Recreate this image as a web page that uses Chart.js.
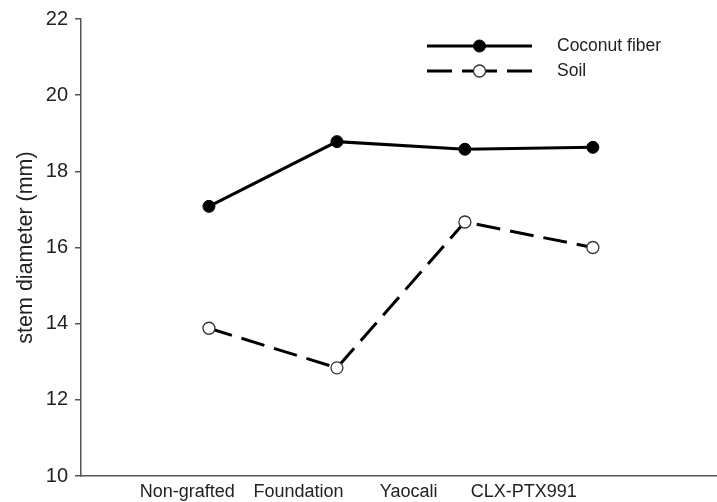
<!DOCTYPE html>
<html>
<head>
<meta charset="utf-8">
<script src="https://cdn.jsdelivr.net/npm/chart.js@4/dist/chart.umd.min.js"></script>
<style>
  html, body { margin: 0; padding: 0; background: #fff; }
  #wrap { width: 717px; height: 502px; }
</style>
</head>
<body>
<div id="wrap"><canvas id="chart"></canvas></div>
<script>
const categories = ['Non-grafted', 'Foundation', 'Yaocali', 'CLX-PTX991'];
const xPositions = [1, 2, 3, 4];
// where SigmaPlot put the category labels (a bit left of the points)
const labelPositions = [0.83, 1.70, 2.56, 3.46];
const coconutFiber = [17.08, 18.78, 18.58, 18.63];
const soil = [13.88, 12.84, 16.67, 16.0];
const yTicks = [10, 12, 14, 16, 18, 20, 22];

const FONT = 'Liberation Sans, Arial, sans-serif';

// legend with the marker in the middle of the line, like the original
const lineLegend = {
    id: 'lineLegend',
    afterDraw(chart) {
        const ctx = chart.ctx;
        const x0 = 427, x1 = 532, textX = 557;
        chart.data.datasets.forEach((ds, i) => {
            const y = 46 + i * 25;
            const mid = (x0 + x1) / 2;
            ctx.save();
            ctx.strokeStyle = ds.borderColor;
            ctx.lineWidth = ds.borderWidth;
            ctx.beginPath();
            if (ds.borderDash) {
                ctx.moveTo(x0, y); ctx.lineTo(x0 + 25, y);
                ctx.moveTo(x0 + 35, y); ctx.lineTo(mid, y);
                ctx.moveTo(mid, y); ctx.lineTo(x1 - 35, y);
                ctx.moveTo(x1 - 25, y); ctx.lineTo(x1, y);
            } else {
                ctx.moveTo(x0, y); ctx.lineTo(x1, y);
            }
            ctx.stroke();
            ctx.beginPath();
            ctx.arc(mid, y, ds.pointRadius, 0, Math.PI * 2);
            ctx.fillStyle = ds.pointBackgroundColor;
            ctx.fill();
            ctx.lineWidth = ds.pointBorderWidth;
            ctx.strokeStyle = ds.pointBorderColor;
            ctx.stroke();
            ctx.fillStyle = '#222';
            ctx.font = '17.5px ' + FONT;
            ctx.textBaseline = 'middle';
            ctx.fillText(ds.label, textX, y);
            ctx.restore();
        });
    }
};

new Chart(document.getElementById('chart'), {
    type: 'line',
    data: {
        datasets: [{
            label: 'Coconut fiber',
            data: xPositions.map((x, i) => ({ x: x, y: coconutFiber[i] })),
            borderColor: '#000',
            borderWidth: 3,
            pointRadius: 6,
            pointBackgroundColor: '#000',
            pointBorderColor: '#000',
            pointBorderWidth: 1,
            tension: 0
        }, {
            label: 'Soil',
            data: xPositions.map((x, i) => ({ x: x, y: soil[i] })),
            borderColor: '#000',
            borderWidth: 3,
            borderDash: [24, 10],
            pointRadius: 6,
            pointBackgroundColor: '#fff',
            pointBorderColor: '#333',
            pointBorderWidth: 1.3,
            tension: 0
        }]
    },
    options: {
        responsive: true,
        maintainAspectRatio: false,
        animation: false,
        layout: { autoPadding: false, padding: { top: 19, right: 0, left: 0, bottom: 0 } },
        plugins: {
            legend: { display: false },
            tooltip: { enabled: false }
        },
        scales: {
            x: {
                type: 'linear',
                min: 0,
                max: 4.97,
                afterBuildTicks: axis => {
                    axis.ticks = labelPositions.map(v => ({ value: v }));
                },
                afterFit: axis => {
                    axis.height = 26;
                    axis.paddingLeft = 0;
                    axis.paddingRight = 0;
                },
                border: { display: true, color: '#555', width: 1.5 },
                grid: { display: false, drawTicks: false },
                ticks: {
                    padding: 5,
                    maxRotation: 0,
                    autoSkip: false,
                    color: '#222',
                    font: { family: FONT, size: 18 },
                    callback: (value, index) => categories[index]
                }
            },
            y: {
                min: 10,
                max: 22,
                afterBuildTicks: axis => {
                    axis.ticks = yTicks.map(v => ({ value: v }));
                },
                afterFit: axis => { axis.width = 81; },
                border: { display: true, color: '#555', width: 1.5 },
                grid: { drawOnChartArea: false, drawTicks: true, tickLength: 6, color: '#555', lineWidth: 1.5 },
                ticks: {
                    padding: 7,
                    color: '#222',
                    font: { family: FONT, size: 20 }
                },
                title: {
                    display: true,
                    text: 'stem diameter (mm)',
                    color: '#222',
                    font: { family: FONT, size: 21.5 },
                    padding: { top: 13, bottom: 0 }
                }
            }
        }
    },
    plugins: [lineLegend]
});
</script>
</body>
</html>
